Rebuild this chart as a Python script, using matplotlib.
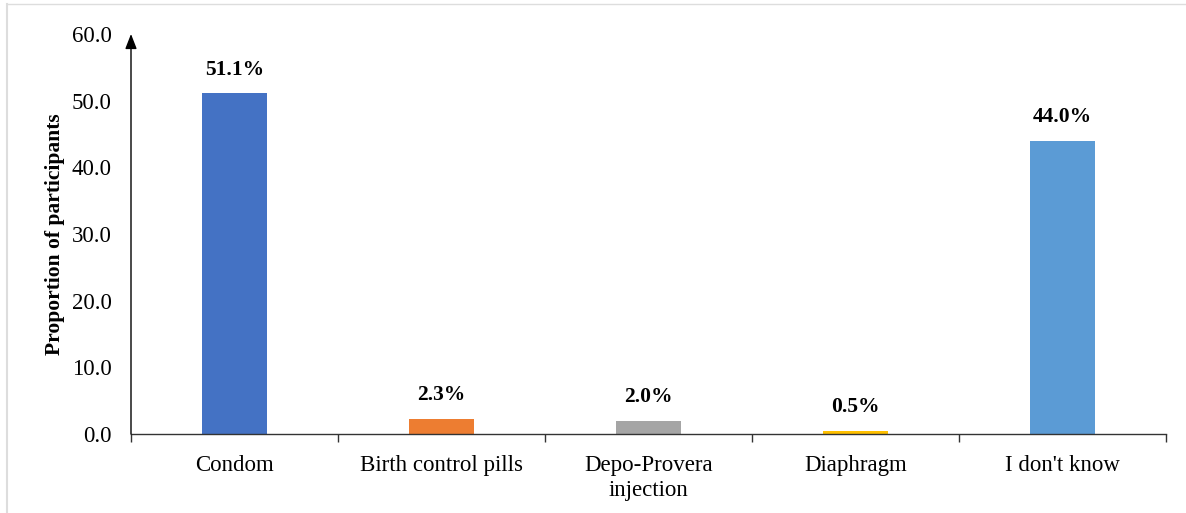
import matplotlib
matplotlib.use("Agg")
import matplotlib.pyplot as plt
from matplotlib.lines import Line2D
import numpy as np

categories = ["Condom", "Birth control pills", "Depo-Provera\ninjection", "Diaphragm", "I don't know"]
values = [51.1, 2.3, 2.0, 0.5, 44.0]
colors = ["#4472C4", "#ED7D31", "#A5A5A5", "#FFC000", "#5B9BD5"]
yticks = [0, 10, 20, 30, 40, 50, 60]

plt.rcParams['font.family'] = ['Liberation Serif', 'DejaVu Serif']

fig = plt.figure(figsize=(11.86, 5.13), dpi=100)
ax = fig.add_axes([131/1186, 1-434/513, (1166-131)/1186, 400/513])

x = np.arange(len(categories))
ax.bar(x, values, width=0.315, color=colors, zorder=2)
ax.set_xlim(-0.5, len(categories) - 0.5)
ax.set_ylim(0, 60)

for xi, v in zip(x, values):
    ax.annotate(f"{v:.1f}%", (xi, v), xytext=(0, 17), textcoords="offset points",
                ha="center", va="center", fontsize=15.5, fontweight="bold")

ax.set_yticks(yticks)
ax.set_yticklabels([f"{t:.1f}" for t in yticks], fontsize=16.5)
ax.tick_params(axis="y", length=0, pad=14)

ax.set_xticks(x)
ax.set_xticklabels(categories, fontsize=16.5, linespacing=1.25)
ax.set_xticks(np.arange(-0.5, len(categories)), minor=True)
ax.tick_params(axis="x", which="major", length=0, pad=15)
ax.tick_params(axis="x", which="minor", length=6, width=1.0, color="#333333")

for s in ["top", "right", "left"]:
    ax.spines[s].set_visible(False)
ax.spines["bottom"].set_color("#333333")
ax.spines["bottom"].set_linewidth(1.0)

# y axis with arrow
ax.annotate("", xy=(0, 1.0), xytext=(0, 0), xycoords="axes fraction",
            arrowprops=dict(arrowstyle="-|>,head_length=0.9,head_width=0.35", color="black", lw=1.0,
                            shrinkA=0, shrinkB=0))

ax.set_ylabel("Proportion of participants", fontsize=15.5, fontweight="bold", labelpad=10)
ax.yaxis.set_label_coords(-66/1035, 0.5)

# faint page border
fig.add_artist(Line2D([7/1186, 7/1186], [0, 1-4/513], color="#dddddd", lw=1.5))
fig.add_artist(Line2D([7/1186, 1], [1-4/513, 1-4/513], color="#dddddd", lw=1.0))

fig.savefig("out.png", dpi=100)
